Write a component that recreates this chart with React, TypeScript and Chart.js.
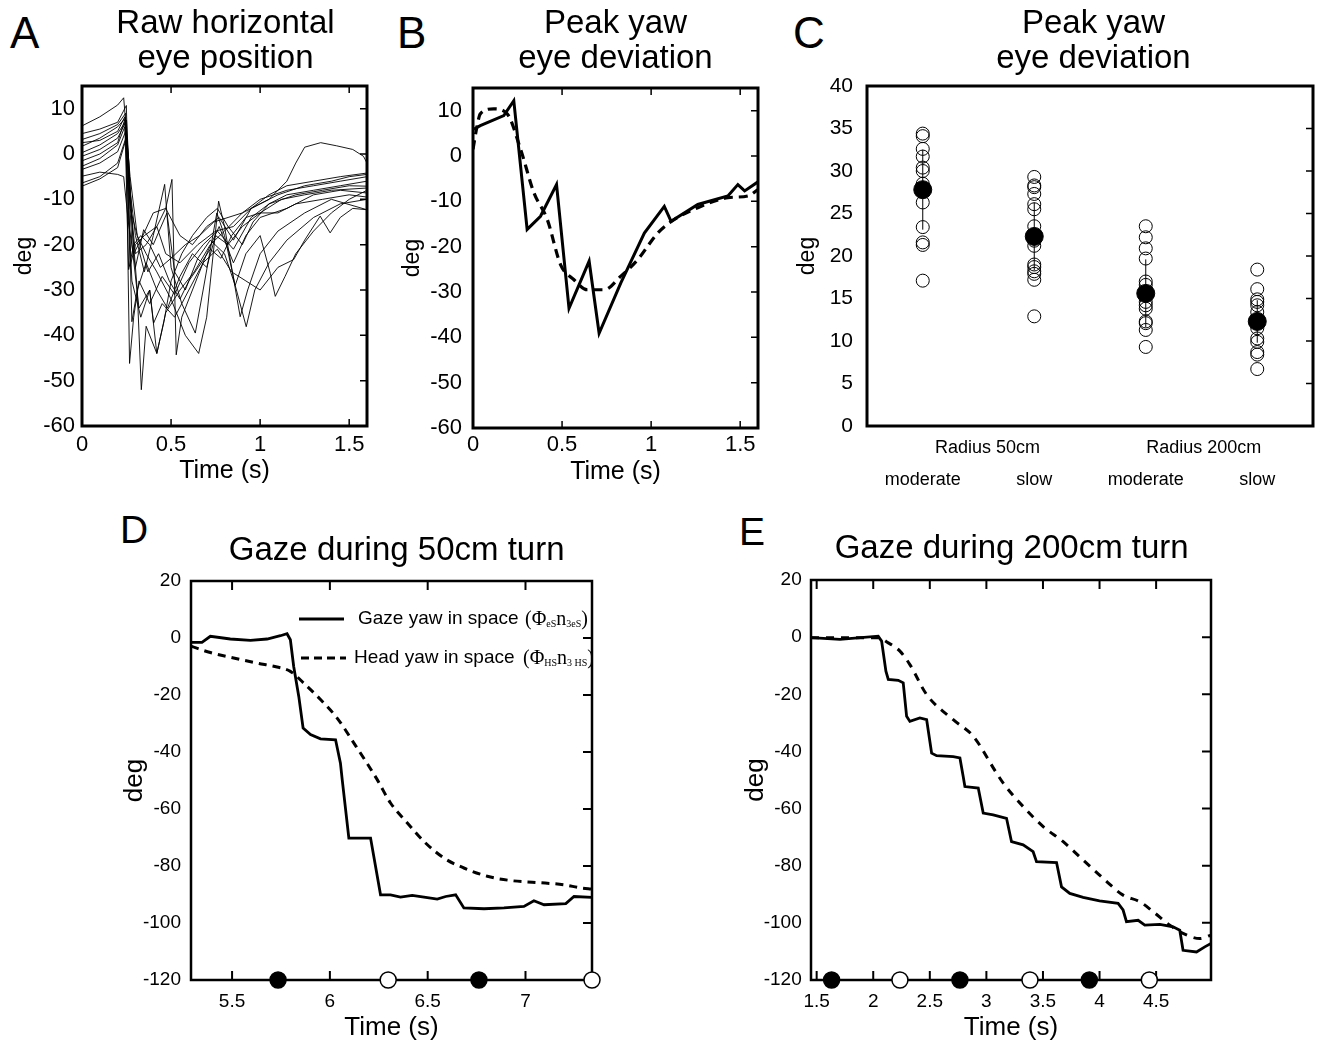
import React, { useEffect, useRef } from 'react';
import { Chart, registerables } from 'chart.js';
Chart.register(...registerables);

type Pt = [number, number];
const SANS = '"Liberation Sans", Arial, Helvetica, sans-serif';
const SERIF = '"Liberation Serif", "Times New Roman", Times, serif';

// ---------------- Panel A : raw horizontal eye position ----------------
const aXTicks = [0, 0.5, 1, 1.5];
const aYTicks = [-60, -50, -40, -30, -20, -10, 0, 10];
const rawTrace01: Pt[] = [[0, 6.2], [0.1, 8.2], [0.2, 10.8], [0.234, 12.4], [0.26, 0], [0.29, -22], [0.33, -19], [0.4, -13], [0.47, -12], [0.55, -18], [0.62, -20], [0.7, -16], [0.77, -14], [0.85, -19], [0.95, -12], [1.05, -9], [1.15, -7], [1.3, -6], [1.45, -5], [1.6, -4.2]];
const rawTrace02: Pt[] = [[0, 1.7], [0.1, 3.5], [0.2, 6], [0.245, 8], [0.27, -10], [0.3, -22], [0.36, -20], [0.42, -16], [0.47, -22], [0.55, -24], [0.65, -20], [0.75, -17], [0.85, -16], [0.95, -12], [1.05, -10], [1.15, -6], [1.2, -2], [1.25, 1.5], [1.34, 2.5], [1.43, 1.8], [1.52, 1], [1.58, -0.5], [1.6, -2]];
const rawTrace03: Pt[] = [[0, 3.2], [0.1, 4.5], [0.2, 6.5], [0.245, 9], [0.267, -46.2], [0.29, -36], [0.32, -28], [0.38, -33], [0.45, -27], [0.52, -31], [0.6, -24], [0.68, -20], [0.76, -17], [0.85, -21], [0.95, -14], [1.05, -11], [1.2, -9], [1.35, -8], [1.5, -7], [1.6, -7.1]];
const rawTrace04: Pt[] = [[0, 0.3], [0.1, 2], [0.2, 4.5], [0.25, 7.5], [0.28, -15], [0.31, -30], [0.333, -52], [0.36, -38], [0.42, -44], [0.47, -35], [0.55, -30], [0.63, -26], [0.72, -20], [0.8, -17], [0.9, -13], [1.0, -10], [1.15, -8], [1.3, -7], [1.45, -6], [1.6, -5]];
const rawTrace05: Pt[] = [[0, -0.5], [0.1, 1], [0.2, 3.5], [0.245, 7], [0.27, -24.8], [0.3, -20], [0.35, -18], [0.42, -16], [0.47, -12], [0.505, -5.6], [0.529, -44.3], [0.56, -36], [0.62, -30], [0.7, -22], [0.77, -16], [0.85, -24], [0.92, -18], [1.0, -14], [1.15, -12], [1.3, -9], [1.45, -8], [1.6, -8.6]];
const rawTrace06: Pt[] = [[0, -2.7], [0.1, -1], [0.2, 2], [0.24, 6], [0.27, -8], [0.3, -18], [0.35, -26], [0.4, -18], [0.464, -6.7], [0.5, -25], [0.56, -33], [0.636, -39.5], [0.68, -30], [0.757, -13], [0.8, -18], [0.86, -29], [0.922, -38.1], [0.97, -30], [1.05, -24], [1.15, -19], [1.3, -14], [1.45, -11], [1.6, -10]];
const rawTrace07: Pt[] = [[0, -3.4], [0.1, -2], [0.2, 0.5], [0.245, 5], [0.27, -12], [0.31, -18], [0.36, -22], [0.42, -26], [0.5, -32], [0.58, -40], [0.655, -44], [0.7, -36], [0.767, -10.4], [0.8, -16], [0.888, -35.9], [0.93, -30], [1.0, -22], [1.1, -17], [1.25, -13], [1.4, -10], [1.6, -12.3]];
const rawTrace08: Pt[] = [[0, -4.9], [0.1, -4], [0.2, -4.5], [0.234, -5], [0.26, -15], [0.3, -25], [0.346, -16.7], [0.4, -20], [0.477, -13], [0.52, -26], [0.58, -30], [0.65, -23], [0.72, -19], [0.8, -22], [0.86, -29], [0.92, -22], [1.0, -18], [1.057, -26.3], [1.085, -31.4], [1.14, -27], [1.2, -22], [1.3, -17], [1.4, -13], [1.5, -10], [1.6, -8]];
const rawTrace09: Pt[] = [[0, -6.4], [0.1, -5], [0.2, -2], [0.25, 4], [0.28, -20], [0.32, -34], [0.38, -30], [0.402, -37.3], [0.45, -33], [0.52, -36], [0.6, -30], [0.68, -24], [0.76, -21], [0.84, -26], [0.92, -28], [1.0, -30], [1.1, -25], [1.188, -23.3], [1.25, -19], [1.337, -13.7], [1.393, -17.4], [1.45, -14], [1.52, -12], [1.6, -12.3]];
const rawTrace10: Pt[] = [[0, -7.1], [0.1, -5.5], [0.2, -3], [0.245, 3], [0.28, -28], [0.33, -36], [0.38, -30], [0.42, -44], [0.46, -37], [0.5, -28], [0.56, -22], [0.62, -18], [0.7, -14], [0.76, -12], [0.82, -16], [0.9, -20], [0.96, -15], [1.05, -11], [1.15, -9], [1.3, -8], [1.45, -7], [1.6, -6]];
const rawTrace11: Pt[] = [[0, -1.5], [0.1, 0], [0.2, 2.5], [0.24, 7.6], [0.262, -25.5], [0.29, -20], [0.33, -18], [0.38, -20], [0.44, -25], [0.5, -23], [0.58, -20], [0.66, -18], [0.74, -15], [0.82, -14], [0.9, -13], [1.0, -11], [1.1, -9], [1.25, -7], [1.4, -6], [1.5, -5], [1.6, -4.5]];
const rawTrace12: Pt[] = [[0, 4.5], [0.1, 5.5], [0.2, 7], [0.249, 10.7], [0.28, -37], [0.31, -30], [0.36, -24], [0.42, -30], [0.48, -34], [0.55, -27], [0.62, -22], [0.7, -25], [0.75, -18], [0.82, -20], [0.9, -16], [1.0, -13], [1.12, -10], [1.25, -9], [1.4, -8], [1.6, -7.5]];
const rawTrace13: Pt[] = [[0, 2.5], [0.1, 3], [0.2, 5], [0.24, 8.2], [0.27, -5], [0.31, -18], [0.37, -26], [0.43, -22], [0.49, -28], [0.55, -32], [0.6, -28], [0.67, -24], [0.72, -21], [0.78, -23], [0.84, -18], [0.92, -14], [1.0, -13], [1.1, -13], [1.2, -11], [1.35, -10], [1.5, -9], [1.6, -9.5]];
const rawTraces = [rawTrace01, rawTrace02, rawTrace03, rawTrace04, rawTrace05, rawTrace06, rawTrace07, rawTrace08, rawTrace09, rawTrace10, rawTrace11, rawTrace12, rawTrace13];

// ---------------- Panel B : peak yaw eye deviation (example) ----------------
const bSolid: Pt[] = [[0.004, 5.9], [0.041, 6.7], [0.173, 8.9], [0.229, 12.2], [0.304, -16.2], [0.379, -13.3], [0.469, -6.3], [0.539, -33.6], [0.652, -23.2], [0.708, -39.1], [0.83, -28.0], [0.962, -17.0], [1.074, -11.1], [1.112, -14.4], [1.262, -10.7], [1.431, -8.8], [1.487, -6.3], [1.525, -7.7], [1.6, -5.7]];
const bDashed: Pt[] = [[0, 1.5], [0.02, 6], [0.041, 9.3], [0.116, 10.4], [0.192, 9.3], [0.267, 1.5], [0.342, -8.1], [0.417, -14.0], [0.492, -24.0], [0.567, -27.3], [0.642, -29.5], [0.736, -29.5], [0.83, -26.5], [0.924, -22.9], [1.037, -17.0], [1.13, -14.0], [1.262, -11.4], [1.431, -9.2], [1.544, -8.8], [1.6, -7.4]];

// ---------------- Panel C : peak yaw eye deviation by condition ----------------
const cSpeeds = ['moderate', 'slow', 'moderate', 'slow'];
const cGroups = ['Radius 50cm', 'Radius 200cm'];
const cYTicks = [0, 5, 10, 15, 20, 25, 30, 35, 40];
const cModerate50 = [34.4, 34.1, 32.6, 31.7, 30.4, 30.0, 28.5, 26.3, 23.4, 21.6, 21.3, 17.1];
const cSlow50 = [29.3, 28.3, 28.1, 27.3, 26.1, 25.5, 23.5, 21.8, 21.2, 19.0, 18.7, 18.2, 17.9, 17.2, 12.9];
const cModerate200 = [23.5, 22.2, 20.9, 19.7, 17.0, 16.6, 14.6, 14.2, 13.8, 12.3, 12.1, 11.3, 9.3];
const cSlow200 = [18.4, 16.1, 14.9, 14.6, 14.2, 13.4, 11.5, 10.3, 9.9, 8.7, 8.4, 6.7];
const cValues = [cModerate50, cSlow50, cModerate200, cSlow200];
const cMeans = [27.8, 22.3, 15.6, 12.3];
const cSD = [4.7, 4.0, 4.0, 2.5];

// ---------------- Panel D : gaze during 50cm turn ----------------
const dXTicks = [5.5, 6, 6.5, 7];
const gzYTicks = [-120, -100, -80, -60, -40, -20, 0, 20];
const gaze50: Pt[] = [[5.29, -1.5], [5.346, -1.5], [5.389, 0.6], [5.491, -0.35], [5.594, -0.8], [5.679, -0.35], [5.747, 0.8], [5.781, 1.5], [5.798, -0.6], [5.815, -10], [5.841, -20.5], [5.863, -31.6], [5.901, -33.9], [5.952, -35.4], [6.029, -35.7], [6.054, -43.9], [6.063, -49.7], [6.097, -70.2], [6.208, -70.2], [6.259, -90.1], [6.31, -90.1], [6.361, -90.9], [6.421, -90.3], [6.481, -90.9], [6.549, -91.6], [6.592, -90.7], [6.643, -90.1], [6.685, -94.7], [6.788, -95], [6.89, -94.7], [6.992, -94.2], [7.043, -92.2], [7.095, -93.6], [7.206, -93.2], [7.248, -90.7], [7.34, -91.0]];
const head50: Pt[] = [[5.29, -2.9], [5.389, -5.1], [5.508, -7], [5.628, -8.8], [5.73, -10.2], [5.798, -11.7], [5.866, -15.8], [5.952, -21.6], [6.037, -28.1], [6.122, -36.8], [6.242, -49.7], [6.31, -57.9], [6.396, -64.9], [6.481, -71.4], [6.583, -77.2], [6.685, -80.7], [6.805, -83.6], [6.924, -85.1], [7.061, -85.8], [7.197, -86.6], [7.282, -87.7], [7.34, -88.1]];
const d50Filled = [5.735, 6.762];
const d50Open = [6.298, 7.34];

// ---------------- Panel E : gaze during 200cm turn ----------------
const eXTicks = [1.5, 2, 2.5, 3, 3.5, 4, 4.5];
const gaze200: Pt[] = [[1.45, -0.2], [1.706, -0.8], [2.044, 0.35], [2.074, -1.4], [2.112, -11.9], [2.133, -14.8], [2.221, -15.1], [2.265, -16], [2.295, -27.7], [2.324, -29.5], [2.412, -28.3], [2.472, -28.9], [2.516, -40.6], [2.56, -41.5], [2.707, -41.8], [2.766, -42.3], [2.795, -48.8], [2.81, -52.3], [2.928, -52.8], [2.972, -61.6], [3.06, -62.2], [3.178, -63.4], [3.222, -71.6], [3.325, -72.7], [3.413, -75.1], [3.443, -78.6], [3.62, -78.9], [3.664, -87.4], [3.737, -89.7], [3.855, -91.1], [4.0, -92.3], [4.164, -93.2], [4.208, -95.5], [4.238, -99.6], [4.341, -99.1], [4.4, -100.8], [4.533, -100.5], [4.65, -101.4], [4.709, -102.6], [4.738, -109.6], [4.857, -110.2], [4.93, -108.4], [4.985, -107.2]];
const head200: Pt[] = [[1.45, -0.2], [2.044, -0.2], [2.133, -2], [2.236, -4.9], [2.324, -9.6], [2.472, -20.1], [2.707, -28.9], [2.884, -34.7], [3.09, -47.6], [3.149, -51.1], [3.325, -59.3], [3.502, -66.3], [3.679, -71.6], [3.855, -78], [4.032, -84.4], [4.208, -90.3], [4.356, -92.6], [4.474, -96.1], [4.621, -100.8], [4.738, -103.7], [4.886, -105.5], [4.985, -104.3]];
const e200Filled = [1.632, 2.766, 3.91];
const e200Open = [2.236, 3.385, 4.44];

// ---------------- helpers ----------------
const toXY = (pts: Pt[]) => pts.map(([x, y]) => ({ x, y }));

interface AxisSpec {
  min: number; max: number; ticks: number[]; tickSize: number; tickPad: number;
  title?: string; titleSize?: number; titlePad?: number; size: number; showLabels?: boolean;
}

function buildOptions(x: AxisSpec, y: AxisSpec, pt: number, pr: number): any {
  const font = (s: number) => ({ size: s, family: SANS });
  return {
    responsive: false,
    maintainAspectRatio: false,
    animation: false,
    events: [],
    layout: { padding: { top: pt, right: pr, bottom: 0, left: 0 } },
    plugins: { legend: { display: false }, tooltip: { enabled: false } },
    scales: {
      x: {
        type: 'linear', position: 'bottom', min: x.min, max: x.max,
        grid: { display: false, drawTicks: false }, border: { display: false },
        ticks: { display: x.showLabels !== false, padding: x.tickPad, font: font(x.tickSize), color: '#000', autoSkip: false, maxRotation: 0, minRotation: 0, callback: (v: any) => String(v) },
        afterBuildTicks: (s: any) => { s.ticks = x.ticks.map((v) => ({ value: v })); },
        afterFit: (s: any) => { s.height = x.size; },
        title: { display: !!x.title, text: x.title || '', font: font(x.titleSize || 20), color: '#000', padding: { top: 0, bottom: x.titlePad || 0 } },
      },
      y: {
        type: 'linear', position: 'left', min: y.min, max: y.max,
        grid: { display: false, drawTicks: false }, border: { display: false },
        ticks: { display: true, padding: y.tickPad, font: font(y.tickSize), color: '#000', autoSkip: false, callback: (v: any) => String(v) },
        afterBuildTicks: (s: any) => { s.ticks = y.ticks.map((v) => ({ value: v })); },
        afterFit: (s: any) => { s.width = y.size; },
        title: { display: !!y.title, text: y.title || '', font: font(y.titleSize || 20), color: '#000', padding: { top: y.titlePad || 0, bottom: 0 } },
      },
    },
  };
}

function makeFrame(cfg: { xTicks: number[]; yTicks: number[]; len: number; tickWidth: number; frameWidth: number }) {
  return {
    id: 'frameTicks',
    beforeDatasetsDraw(chart: any) {
      const { ctx, chartArea: ca, scales } = chart;
      ctx.save();
      ctx.strokeStyle = '#000';
      ctx.lineWidth = cfg.tickWidth;
      ctx.beginPath();
      cfg.xTicks.forEach((v) => {
        const px = scales.x.getPixelForValue(v);
        ctx.moveTo(px, ca.top); ctx.lineTo(px, ca.top + cfg.len);
        ctx.moveTo(px, ca.bottom); ctx.lineTo(px, ca.bottom - cfg.len);
      });
      cfg.yTicks.forEach((v) => {
        const py = scales.y.getPixelForValue(v);
        ctx.moveTo(ca.right, py); ctx.lineTo(ca.right - cfg.len, py);
      });
      ctx.stroke();
      ctx.lineWidth = cfg.frameWidth;
      ctx.strokeRect(ca.left, ca.top, ca.right - ca.left, ca.bottom - ca.top);
      ctx.restore();
    },
  };
}

const lineDs = (pts: Pt[], width: number, dash: number[] = [], smooth = false): any => ({
  data: toXY(pts), showLine: true, borderColor: '#000', borderWidth: width, borderDash: dash,
  pointRadius: 0, fill: false, tension: 0, cubicInterpolationMode: smooth ? 'monotone' : 'default',
});
const markerDs = (xs: number[], y: number, filled: boolean): any => ({
  data: xs.map((x) => ({ x, y })), showLine: false, pointRadius: 8,
  pointBackgroundColor: filled ? '#000' : '#fff', pointBorderColor: '#000', pointBorderWidth: 1.5, clip: false, order: -1,
});

// ---------------- chart configs ----------------
function configA(): any {
  return {
    type: 'scatter',
    data: { datasets: rawTraces.map((t) => lineDs(t, 0.9)) },
    options: buildOptions(
      { min: 0, max: 1.6, ticks: aXTicks, tickSize: 22, tickPad: 5.8, title: 'Time (s)', titleSize: 25, titlePad: 4, size: 64 },
      { min: -60, max: 15, ticks: aYTicks, tickSize: 22, tickPad: 7, title: 'deg', titleSize: 23, titlePad: 11.2, size: 82 },
      24, 6),
    plugins: [makeFrame({ xTicks: [0.5, 1, 1.5], yTicks: [-50, -40, -30, -20, -10, 0, 10], len: 7, tickWidth: 1.5, frameWidth: 3 })],
  };
}

function configB(): any {
  return {
    type: 'scatter',
    data: { datasets: [lineDs(bSolid, 3), lineDs(bDashed, 3.2, [9, 6], true)] },
    options: buildOptions(
      { min: 0, max: 1.6, ticks: aXTicks, tickSize: 22, tickPad: 3.8, title: 'Time (s)', titleSize: 25, titlePad: 5, size: 64 },
      { min: -60, max: 15, ticks: aYTicks, tickSize: 22, tickPad: 11, title: 'deg', titleSize: 23, titlePad: 9.2, size: 83 },
      26, 6),
    plugins: [makeFrame({ xTicks: [0.5, 1, 1.5], yTicks: [-50, -40, -30, -20, -10, 0, 10], len: 7, tickWidth: 1.5, frameWidth: 3 })],
  };
}

function configC(): any {
  const datasets: any[] = [];
  cValues.forEach((vals, i) => {
    datasets.push({
      data: [{ x: i, y: cMeans[i] - cSD[i] }, { x: i, y: cMeans[i] + cSD[i] }],
      showLine: true, borderColor: '#000', borderWidth: 1, pointRadius: 0, order: 3,
    });
    datasets.push({
      data: vals.map((v) => ({ x: i, y: v })), showLine: false, pointRadius: 6.5, pointBorderWidth: 1,
      pointBackgroundColor: 'rgba(0,0,0,0)', pointBorderColor: '#000', order: 2,
    });
    datasets.push({
      data: [{ x: i, y: cMeans[i] }], showLine: false, pointRadius: 9, pointBorderWidth: 1,
      pointBackgroundColor: '#000', pointBorderColor: '#000', order: 1,
    });
  });
  const labels = {
    id: 'catLabels',
    afterDraw(chart: any) {
      const { ctx, chartArea: ca, scales } = chart;
      ctx.save();
      ctx.fillStyle = '#000';
      ctx.textAlign = 'center';
      ctx.textBaseline = 'middle';
      ctx.font = `18px ${SANS}`;
      const groupPos = [0.58, 2.52];
      cGroups.forEach((g, i) => ctx.fillText(g, scales.x.getPixelForValue(groupPos[i]), ca.bottom + 22));
      cSpeeds.forEach((s, i) => ctx.fillText(s, scales.x.getPixelForValue(i), ca.bottom + 54));
      ctx.restore();
    },
  };
  return {
    type: 'scatter',
    data: { datasets },
    options: buildOptions(
      { min: -0.5, max: 3.5, ticks: [0, 1, 2, 3], tickSize: 18, tickPad: 0, size: 70, showLabels: false },
      { min: 0, max: 40, ticks: cYTicks, tickSize: 21, tickPad: 14, title: 'deg', titleSize: 23, titlePad: 14.2, size: 87 },
      28, 6),
    plugins: [makeFrame({ xTicks: [], yTicks: [5, 10, 15, 20, 25, 30, 35], len: 7, tickWidth: 1.5, frameWidth: 3 }), labels],
  };
}

function drawSubscripted(ctx: any, x: number, y: number, parts: [string, boolean][]) {
  let cx = x;
  parts.forEach(([txt, sub]) => {
    ctx.font = sub ? `10px ${SERIF}` : `20px ${SERIF}`;
    ctx.fillText(txt, cx, sub ? y + 4 : y);
    cx += ctx.measureText(txt).width;
  });
}

function configD(): any {
  const legend = {
    id: 'gazeLegend',
    afterDraw(chart: any) {
      const { ctx, chartArea: ca } = chart;
      ctx.save();
      ctx.strokeStyle = '#000';
      ctx.fillStyle = '#000';
      ctx.lineWidth = 3;
      const y1 = ca.top + 38;
      const y2 = ca.top + 77;
      ctx.beginPath(); ctx.moveTo(ca.left + 108, y1); ctx.lineTo(ca.left + 153, y1); ctx.stroke();
      ctx.setLineDash([8, 5]);
      ctx.beginPath(); ctx.moveTo(ca.left + 110, y2); ctx.lineTo(ca.left + 155, y2); ctx.stroke();
      ctx.setLineDash([]);
      ctx.textBaseline = 'middle';
      ctx.textAlign = 'left';
      ctx.font = `19px ${SANS}`;
      ctx.fillText('Gaze yaw in space', ca.left + 167, y1);
      ctx.fillText('Head yaw in space', ca.left + 163, y2);
      drawSubscripted(ctx, ca.left + 334, y1 + 1, [['(Φ', false], ['eS', true], ['n', false], ['3eS', true], [')', false]]);
      drawSubscripted(ctx, ca.left + 332, y2 + 1, [['(Φ', false], ['HS', true], ['n', false], ['3 HS', true], [')', false]]);
      ctx.restore();
    },
  };
  return {
    type: 'scatter',
    data: {
      datasets: [
        lineDs(gaze50, 2.8),
        lineDs(head50, 3, [8, 6], true),
        markerDs(d50Filled, -120, true),
        markerDs(d50Open, -120, false),
      ],
    },
    options: buildOptions(
      { min: 5.29, max: 7.34, ticks: dXTicks, tickSize: 19, tickPad: 10.3, title: 'Time (s)', titleSize: 26, titlePad: 2.4, size: 66 },
      { min: -120, max: 20, ticks: gzYTicks, tickSize: 19, tickPad: 10, title: 'deg', titleSize: 26, titlePad: 9.4, size: 81 },
      24, 18),
    plugins: [makeFrame({ xTicks: dXTicks, yTicks: [-100, -80, -60, -40, -20, 0], len: 9, tickWidth: 2, frameWidth: 2.5 }), legend],
  };
}

function configE(): any {
  return {
    type: 'scatter',
    data: {
      datasets: [
        lineDs(gaze200, 2.8),
        lineDs(head200, 3, [8, 7], true),
        markerDs(e200Filled, -120, true),
        markerDs(e200Open, -120, false),
      ],
    },
    options: buildOptions(
      { min: 1.45, max: 4.985, ticks: eXTicks, tickSize: 19, tickPad: 10.3, title: 'Time (s)', titleSize: 26, titlePad: 2.4, size: 66 },
      { min: -120, max: 20, ticks: gzYTicks, tickSize: 19, tickPad: 9.3, title: 'deg', titleSize: 26, titlePad: 10.4, size: 81 },
      24, 14),
    plugins: [makeFrame({ xTicks: eXTicks, yTicks: [-100, -80, -60, -40, -20, 0], len: 9, tickWidth: 2, frameWidth: 2.5 })],
  };
}

function ChartBox(props: { left: number; top: number; width: number; height: number; config: () => any }) {
  const ref = useRef<HTMLCanvasElement>(null);
  useEffect(() => {
    const chart = new Chart(ref.current as HTMLCanvasElement, props.config());
    return () => chart.destroy();
  }, []);
  return (
    <canvas
      ref={ref}
      width={props.width}
      height={props.height}
      style={{ position: 'absolute', left: props.left, top: props.top, width: props.width, height: props.height }}
    />
  );
}

function Label(props: { left: number; top: number; size: number; text: string }) {
  return (
    <div style={{ position: 'absolute', left: props.left, top: props.top, fontSize: props.size, lineHeight: `${props.size}px`, fontFamily: SANS, color: '#000', whiteSpace: 'nowrap' }}>
      {props.text}
    </div>
  );
}

function Title(props: { center: number; top: number; lines: string[] }) {
  return (
    <div style={{ position: 'absolute', left: props.center - 250, top: props.top, width: 500, textAlign: 'center', fontSize: 33, lineHeight: '35px', fontFamily: SANS, color: '#000', whiteSpace: 'nowrap' }}>
      {props.lines.map((l, i) => <div key={i}>{l}</div>)}
    </div>
  );
}

export default function App() {
  return (
    <div style={{ position: 'absolute', left: 0, top: 0, width: 1329, height: 1046, background: '#fff', overflow: 'hidden' }}>
      <ChartBox left={0} top={62} width={373} height={428} config={configA} />
      <ChartBox left={390} top={62} width={374} height={430} config={configB} />
      <ChartBox left={780} top={58} width={543} height={438} config={configC} />
      <ChartBox left={110} top={557} width={500} height={489} config={configD} />
      <ChartBox left={730} top={556} width={495} height={490} config={configE} />

      <Label left={10} top={11} size={44} text="A" />
      <Label left={397} top={11} size={44} text="B" />
      <Label left={793} top={11} size={44} text="C" />
      <Label left={120} top={510} size={39} text="D" />
      <Label left={739} top={512} size={39} text="E" />

      <Title center={225.5} top={4} lines={['Raw horizontal', 'eye position']} />
      <Title center={615.5} top={4} lines={['Peak yaw', 'eye deviation']} />
      <Title center={1093.5} top={4} lines={['Peak yaw', 'eye deviation']} />
      <Title center={396.7} top={531} lines={['Gaze during 50cm turn']} />
      <Title center={1011.7} top={529} lines={['Gaze during 200cm turn']} />
    </div>
  );
}
